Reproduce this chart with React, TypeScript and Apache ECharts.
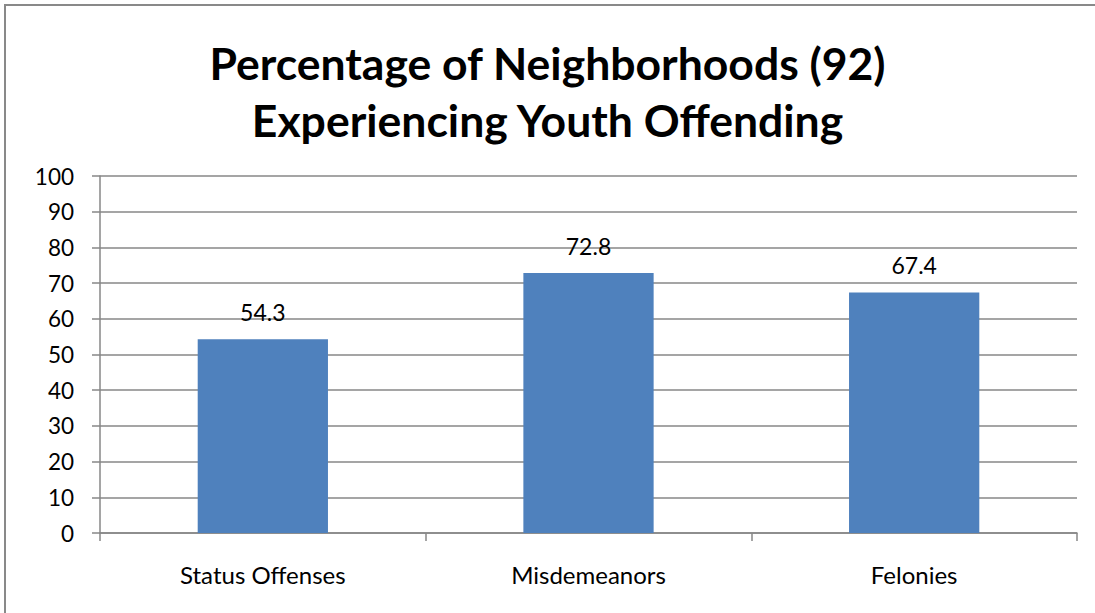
import React, { useEffect, useRef } from "react";
import * as echarts from "echarts";

const titleLines = ["Percentage of Neighborhoods (92)", "Experiencing Youth Offending"];
const categories = ["Status Offenses", "Misdemeanors", "Felonies"];
const values = [54.3, 72.8, 67.4];
const yMin = 0;
const yMax = 100;
const yInterval = 10;

const FONT = "Lato";

export default function App() {
  const ref = useRef<HTMLDivElement>(null);
  useEffect(() => {
    if (!ref.current) return;
    const chart = echarts.init(ref.current, undefined, { renderer: "svg" });
    chart.setOption({
      animation: false,
      backgroundColor: "#ffffff",
      textStyle: { fontFamily: FONT, color: "#000" },
      title: {
        text: titleLines.join("\n"),
        left: "center",
        top: 29,
        textStyle: {
          fontFamily: FONT,
          fontWeight: "bold",
          fontSize: 44.5,
          lineHeight: 57,
          color: "#000",
        },
      },
      graphic: [
        {
          type: "line",
          shape: { x1: 5, y1: 5, x2: 1095, y2: 5 },
          style: { stroke: "#898989", lineWidth: 2 },
          silent: true,
        },
        {
          type: "line",
          shape: { x1: 5, y1: 4, x2: 5, y2: 613 },
          style: { stroke: "#898989", lineWidth: 2 },
          silent: true,
        },
      ],
      grid: { left: 100, right: 18, top: 176, bottom: 80 },
      xAxis: {
        type: "category",
        data: categories,
        axisLine: { show: true, lineStyle: { color: "#878787", width: 1.5 } },
        axisTick: { show: true, length: 8, lineStyle: { color: "#878787", width: 1.5 } },
        axisLabel: { color: "#000", fontFamily: FONT, fontSize: 24, margin: 29 },
        splitLine: { show: false },
      },
      yAxis: {
        type: "value",
        min: yMin,
        max: yMax,
        interval: yInterval,
        axisLine: { show: true, lineStyle: { color: "#878787", width: 1.5 } },
        axisTick: { show: true, length: 8, lineStyle: { color: "#878787", width: 1.5 } },
        axisLabel: { color: "#000", fontFamily: FONT, fontSize: 22.5, margin: 26 },
        splitLine: { show: true, lineStyle: { color: "#878787", width: 1.5 } },
      },
      series: [
        {
          type: "bar",
          data: values,
          barWidth: "40%",
          itemStyle: { color: "#4F81BD" },
          label: {
            show: true,
            position: "top",
            distance: 16,
            color: "#000",
            fontFamily: FONT,
            fontSize: 23,
            formatter: (p: any) => p.value.toFixed(1),
          },
        },
      ],
    });
    return () => chart.dispose();
  }, []);
  return (
    <div
      ref={ref}
      style={{ position: "absolute", left: 0, top: 0, width: 1095, height: 613 }}
    />
  );
}
